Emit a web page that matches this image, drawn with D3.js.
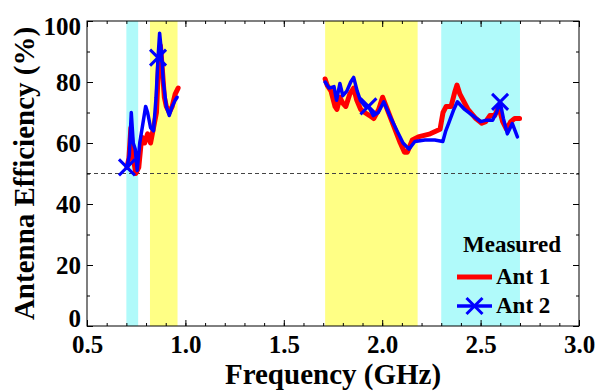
<!DOCTYPE html>
<html>
<head>
<meta charset="utf-8">
<script src="https://cdn.jsdelivr.net/npm/d3@7"></script>
<style>
  body { margin: 0; background: #fff; }
  svg text { font-family: "Liberation Serif", "Times New Roman", serif; font-weight: bold; fill: #000; }
</style>
</head>
<body>
<div id="root"></div>
<script>
const WIDTH = 596;
const HEIGHT = 392;
const MARGIN = {top: 21, right: 17, bottom: 66, left: 87};
const FONT = "Liberation Serif";

// measured bands (GHz)
const cyanBands = [[0.70, 0.76], [2.30, 2.70]];
const yellowBands = [[0.82, 0.96], [1.71, 2.18]];

// Ant 1 (red), low band and high band
const ant1FreqLow = [0.703, 0.713, 0.723, 0.733, 0.748, 0.763, 0.778, 0.793, 0.808, 0.823, 0.838, 0.853, 0.863, 0.873, 0.883, 0.893, 0.903, 0.918, 0.933, 0.948, 0.963];
const ant1EffLow = [52, 55, 65, 56, 50, 52, 62, 60, 63, 60, 65, 70, 85, 92, 84, 75, 72, 70, 72, 76, 78];
const ant1FreqHigh = [1.710, 1.720, 1.740, 1.760, 1.770, 1.785, 1.800, 1.815, 1.835, 1.855, 1.871, 1.891, 1.911, 1.936, 1.957, 1.982, 2.002, 2.032, 2.062, 2.092, 2.113, 2.128, 2.153, 2.183, 2.244, 2.294, 2.309, 2.325, 2.350, 2.370, 2.380, 2.395, 2.436, 2.476, 2.506, 2.526, 2.547, 2.572, 2.592, 2.612, 2.632, 2.653, 2.673, 2.698];
const ant1EffHigh = [81, 79, 77, 72, 71, 75, 73, 72, 76, 78, 74, 71, 70, 69, 68, 71, 75, 70, 65, 60, 57, 57, 61, 62, 63, 64.5, 70, 72, 72, 77, 79, 76, 71, 68, 66.5, 67, 69, 69, 72, 67, 64.5, 67, 68, 68];

// Ant 2 (blue)
const ant2FreqLow = [0.703, 0.715, 0.725, 0.735, 0.745, 0.755, 0.768, 0.783, 0.798, 0.808, 0.823, 0.838, 0.851, 0.861, 0.869, 0.878, 0.888, 0.903, 0.918, 0.933, 0.948, 0.958];
const ant2EffLow = [52, 56, 70, 60, 58, 51, 60, 66, 72, 70, 65, 64, 75, 88, 96, 90, 80, 72, 69, 72, 74, 75];
const ant2FreqHigh = [1.710, 1.730, 1.755, 1.768, 1.785, 1.800, 1.820, 1.840, 1.855, 1.873, 1.889, 1.914, 1.930, 1.955, 1.980, 2.008, 2.045, 2.075, 2.106, 2.136, 2.166, 2.217, 2.267, 2.308, 2.323, 2.338, 2.364, 2.382, 2.419, 2.460, 2.500, 2.531, 2.561, 2.581, 2.599, 2.616, 2.636, 2.661, 2.687];
const ant2EffHigh = [80, 78, 78.5, 74, 79.5, 75.5, 77, 80, 81.5, 77, 74, 72, 72, 69, 70, 73.5, 68, 64, 60, 58, 60.5, 61, 61, 60.5, 64, 66.5, 71, 73.5, 71, 69, 67, 67.5, 67.5, 70, 73.5, 68, 63, 66.4, 62];
const ant2MarkerFreq = [0.703, 0.861, 1.930, 2.599];
const ant2MarkerEff = [52, 88, 72, 73.5];

const xTicks = [0.5, 1.0, 1.5, 2.0, 2.5, 3.0];
const yTicks = [0, 20, 40, 60, 80, 100];
const threshold = 50;

const xScale = d3.scaleLinear()
    .domain([0.5, 3.0])
    .range([MARGIN.left, WIDTH - MARGIN.right]);

const yScale = d3.scaleLinear()
    .domain([0, 100])
    .range([HEIGHT - MARGIN.bottom, MARGIN.top]);

const svg = d3.select("#root")
    .append("svg")
    .attr("width", WIDTH)
    .attr("height", HEIGHT)
    .attr("font-family", FONT);

const plotH = yScale(0) - yScale(100);

// band backgrounds
svg.selectAll(".cyan")
    .data(cyanBands)
    .enter()
    .append("rect")
    .attr("x", d => xScale(d[0]))
    .attr("y", yScale(100))
    .attr("width", d => xScale(d[1]) - xScale(d[0]))
    .attr("height", plotH)
    .attr("fill", "#b0fafa");

svg.selectAll(".yellow")
    .data(yellowBands)
    .enter()
    .append("rect")
    .attr("x", d => xScale(d[0]))
    .attr("y", yScale(100))
    .attr("width", d => xScale(d[1]) - xScale(d[0]))
    .attr("height", plotH)
    .attr("fill", "#ffff85");

// 50% reference line
svg.append("line")
    .attr("x1", xScale(0.5))
    .attr("x2", xScale(3.0))
    .attr("y1", yScale(threshold))
    .attr("y2", yScale(threshold))
    .attr("stroke", "#444")
    .attr("stroke-width", 1)
    .attr("stroke-dasharray", "4,3");

const line = d3.line()
    .x(d => xScale(d[0]))
    .y(d => yScale(d[1]));

function drawSeries(freqs, effs, color, width) {
    svg.append("path")
        .datum(d3.zip(freqs, effs))
        .attr("d", line)
        .attr("fill", "none")
        .attr("stroke", color)
        .attr("stroke-width", width)
        .attr("stroke-linejoin", "round")
        .attr("stroke-linecap", "round");
}

drawSeries(ant1FreqLow, ant1EffLow, "#ff0000", 5);
drawSeries(ant1FreqHigh, ant1EffHigh, "#ff0000", 5);
drawSeries(ant2FreqLow, ant2EffLow, "#0000ff", 3.5);
drawSeries(ant2FreqHigh, ant2EffHigh, "#0000ff", 3.5);

function crossPath(cx, cy, r) {
    return `M${cx - r},${cy - r}L${cx + r},${cy + r}M${cx - r},${cy + r}L${cx + r},${cy - r}`;
}

svg.selectAll(".marker")
    .data(d3.zip(ant2MarkerFreq, ant2MarkerEff))
    .enter()
    .append("path")
    .attr("d", d => crossPath(xScale(d[0]), yScale(d[1]), 8))
    .attr("stroke", "#0000ff")
    .attr("stroke-width", 3)
    .attr("fill", "none");

// axes: frame with inward ticks
const axisLayer = svg.append("g").attr("class", "axisLayer");
const minorX = d3.range(0.5, 3.001, 0.1);
const minorY = d3.range(0, 100.1, 10);

function styleAxis(g) {
    g.attr("font-family", FONT);
    g.select(".domain").remove();
    g.selectAll("line").attr("stroke", "#000").attr("stroke-width", 1);
    g.selectAll("text")
        .attr("font-size", 25)
        .attr("font-family", FONT)
        .attr("font-weight", "bold");
}

// bottom
axisLayer.append("g")
    .attr("transform", `translate(0, ${yScale(0)})`)
    .call(d3.axisBottom(xScale).tickValues(minorX).tickSize(-3).tickFormat(""))
    .call(styleAxis);
axisLayer.append("g")
    .attr("transform", `translate(0, ${yScale(0)})`)
    .call(d3.axisBottom(xScale).tickValues(xTicks).tickSize(-6).tickPadding(6).tickFormat(d3.format(".1f")))
    .call(styleAxis)
    .call(g => g.selectAll("text").attr("dy", "0.85em"));
// top
axisLayer.append("g")
    .attr("transform", `translate(0, ${yScale(100)})`)
    .call(d3.axisTop(xScale).tickValues(minorX).tickSize(-3).tickFormat(""))
    .call(styleAxis);
axisLayer.append("g")
    .attr("transform", `translate(0, ${yScale(100)})`)
    .call(d3.axisTop(xScale).tickValues(xTicks).tickSize(-6).tickFormat(""))
    .call(styleAxis);
// left
axisLayer.append("g")
    .attr("transform", `translate(${xScale(0.5)}, 0)`)
    .call(d3.axisLeft(yScale).tickValues(minorY).tickSize(-3).tickFormat(""))
    .call(styleAxis);
axisLayer.append("g")
    .attr("transform", `translate(${xScale(0.5)}, 0)`)
    .call(d3.axisLeft(yScale).tickValues(yTicks).tickSize(-6).tickPadding(6).tickFormat(d3.format("d")))
    .call(styleAxis)
    // end labels are kept inside the axis span, as in the original plot
    .call(g => g.selectAll(".tick text").attr("y", d => d === 0 ? -8 : (d === 100 ? 5 : 0)));
// right
axisLayer.append("g")
    .attr("transform", `translate(${xScale(3.0)}, 0)`)
    .call(d3.axisRight(yScale).tickValues(minorY).tickSize(-3).tickFormat(""))
    .call(styleAxis);
axisLayer.append("g")
    .attr("transform", `translate(${xScale(3.0)}, 0)`)
    .call(d3.axisRight(yScale).tickValues(yTicks).tickSize(-6).tickFormat(""))
    .call(styleAxis);

axisLayer.append("rect")
    .attr("x", xScale(0.5))
    .attr("y", yScale(100))
    .attr("width", xScale(3.0) - xScale(0.5))
    .attr("height", plotH)
    .attr("fill", "none")
    .attr("stroke", "#000")
    .attr("stroke-width", 1);

// axis titles
svg.append("text")
    .attr("x", (xScale(0.5) + xScale(3.0)) / 2)
    .attr("y", 384)
    .attr("text-anchor", "middle")
    .attr("font-size", 29)
    .attr("font-weight", "bold")
    .text("Frequency (GHz)");

svg.append("text")
    .attr("transform", `translate(34, ${(yScale(0) + yScale(100)) / 2}) rotate(-90)`)
    .attr("text-anchor", "middle")
    .attr("font-size", 29)
    .attr("font-weight", "bold")
    .text("Antenna Efficiency (%)");

// legend
const legend = svg.append("g").attr("class", "legend").attr("font-weight", "bold");
legend.append("text")
    .attr("x", 463)
    .attr("y", 252)
    .attr("font-size", 23)
    .text("Measured");

legend.append("line")
    .attr("x1", 457).attr("x2", 492)
    .attr("y1", 277).attr("y2", 277)
    .attr("stroke", "#ff0000")
    .attr("stroke-width", 5);
legend.append("text")
    .attr("x", 496)
    .attr("y", 284)
    .attr("font-size", 23)
    .text("Ant 1");

legend.append("line")
    .attr("x1", 457).attr("x2", 492)
    .attr("y1", 306).attr("y2", 306)
    .attr("stroke", "#0000ff")
    .attr("stroke-width", 3.5);
legend.append("path")
    .attr("d", crossPath(474.5, 306, 8))
    .attr("stroke", "#0000ff")
    .attr("stroke-width", 3)
    .attr("fill", "none");
legend.append("text")
    .attr("x", 496)
    .attr("y", 313)
    .attr("font-size", 23)
    .text("Ant 2");
</script>
</body>
</html>
